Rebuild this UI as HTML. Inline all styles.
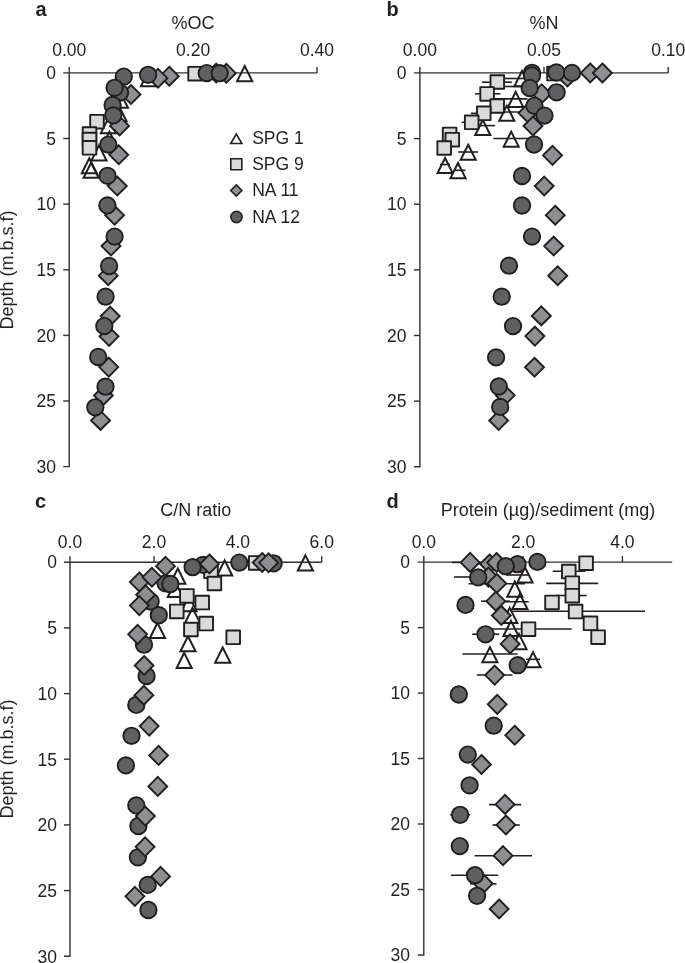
<!DOCTYPE html>
<html><head><meta charset="utf-8"><style>
html,body{margin:0;padding:0;background:#fff;overflow:hidden}
svg{display:block}
text{will-change:transform}
text{font-family:"Liberation Sans",sans-serif;fill:#231f20}
</style></head><body>
<svg width="685" height="963" viewBox="0 0 685 963">
<path d="M63.2 72.9H317.0" stroke="#313133" stroke-width="1.4" fill="none"/>
<path d="M69.2 66.9V466.6H63.2" stroke="#313133" stroke-width="1.4" fill="none"/>
<path d="M63.2 138.5H69.2" stroke="#313133" stroke-width="1.4"/>
<path d="M63.2 204.1H69.2" stroke="#313133" stroke-width="1.4"/>
<path d="M63.2 269.8H69.2" stroke="#313133" stroke-width="1.4"/>
<path d="M63.2 335.4H69.2" stroke="#313133" stroke-width="1.4"/>
<path d="M63.2 401.0H69.2" stroke="#313133" stroke-width="1.4"/>
<path d="M193.1 66.9V72.9" stroke="#313133" stroke-width="1.4"/>
<path d="M317.0 66.9V72.9" stroke="#313133" stroke-width="1.4"/>
<text x="56.0" y="79.1" font-size="17.5" text-anchor="end" font-weight="normal" >0</text>
<text x="56.0" y="144.7" font-size="17.5" text-anchor="end" font-weight="normal" >5</text>
<text x="56.0" y="210.3" font-size="17.5" text-anchor="end" font-weight="normal" >10</text>
<text x="56.0" y="275.9" font-size="17.5" text-anchor="end" font-weight="normal" >15</text>
<text x="56.0" y="341.6" font-size="17.5" text-anchor="end" font-weight="normal" >20</text>
<text x="56.0" y="407.2" font-size="17.5" text-anchor="end" font-weight="normal" >25</text>
<text x="56.0" y="472.8" font-size="17.5" text-anchor="end" font-weight="normal" >30</text>
<text x="193.1" y="28.7" font-size="18" text-anchor="middle" font-weight="normal" >%OC</text>
<text x="69.2" y="56.3" font-size="17.5" text-anchor="middle" font-weight="normal" >0.00</text>
<text x="193.1" y="56.3" font-size="17.5" text-anchor="middle" font-weight="normal" >0.20</text>
<text x="317.0" y="56.3" font-size="17.5" text-anchor="middle" font-weight="normal" >0.40</text>
<path d="M413.9 72.9H668.2" stroke="#313133" stroke-width="1.4" fill="none"/>
<path d="M419.9 66.9V466.8H413.9" stroke="#313133" stroke-width="1.4" fill="none"/>
<path d="M413.9 138.6H419.9" stroke="#313133" stroke-width="1.4"/>
<path d="M413.9 204.2H419.9" stroke="#313133" stroke-width="1.4"/>
<path d="M413.9 269.9H419.9" stroke="#313133" stroke-width="1.4"/>
<path d="M413.9 335.5H419.9" stroke="#313133" stroke-width="1.4"/>
<path d="M413.9 401.1H419.9" stroke="#313133" stroke-width="1.4"/>
<path d="M544.0 66.9V72.9" stroke="#313133" stroke-width="1.4"/>
<path d="M668.2 66.9V72.9" stroke="#313133" stroke-width="1.4"/>
<text x="406.5" y="79.1" font-size="17.5" text-anchor="end" font-weight="normal" >0</text>
<text x="406.5" y="144.8" font-size="17.5" text-anchor="end" font-weight="normal" >5</text>
<text x="406.5" y="210.4" font-size="17.5" text-anchor="end" font-weight="normal" >10</text>
<text x="406.5" y="276.1" font-size="17.5" text-anchor="end" font-weight="normal" >15</text>
<text x="406.5" y="341.7" font-size="17.5" text-anchor="end" font-weight="normal" >20</text>
<text x="406.5" y="407.3" font-size="17.5" text-anchor="end" font-weight="normal" >25</text>
<text x="406.5" y="473.0" font-size="17.5" text-anchor="end" font-weight="normal" >30</text>
<text x="544.0" y="28.7" font-size="18" text-anchor="middle" font-weight="normal" >%N</text>
<text x="419.9" y="56.3" font-size="17.5" text-anchor="middle" font-weight="normal" >0.00</text>
<text x="544.0" y="56.3" font-size="17.5" text-anchor="middle" font-weight="normal" >0.05</text>
<text x="668.2" y="56.3" font-size="17.5" text-anchor="middle" font-weight="normal" >0.10</text>
<path d="M64.0 562.2H321.7" stroke="#313133" stroke-width="1.4" fill="none"/>
<path d="M70.0 556.2V956.3H64.0" stroke="#313133" stroke-width="1.4" fill="none"/>
<path d="M64.0 627.9H70.0" stroke="#313133" stroke-width="1.4"/>
<path d="M64.0 693.6H70.0" stroke="#313133" stroke-width="1.4"/>
<path d="M64.0 759.2H70.0" stroke="#313133" stroke-width="1.4"/>
<path d="M64.0 824.9H70.0" stroke="#313133" stroke-width="1.4"/>
<path d="M64.0 890.6H70.0" stroke="#313133" stroke-width="1.4"/>
<path d="M154.0 556.2V562.2" stroke="#313133" stroke-width="1.4"/>
<path d="M237.9 556.2V562.2" stroke="#313133" stroke-width="1.4"/>
<path d="M321.7 556.2V562.2" stroke="#313133" stroke-width="1.4"/>
<text x="57.0" y="568.4" font-size="17.5" text-anchor="end" font-weight="normal" >0</text>
<text x="57.0" y="634.1" font-size="17.5" text-anchor="end" font-weight="normal" >5</text>
<text x="57.0" y="699.8" font-size="17.5" text-anchor="end" font-weight="normal" >10</text>
<text x="57.0" y="765.5" font-size="17.5" text-anchor="end" font-weight="normal" >15</text>
<text x="57.0" y="831.1" font-size="17.5" text-anchor="end" font-weight="normal" >20</text>
<text x="57.0" y="896.8" font-size="17.5" text-anchor="end" font-weight="normal" >25</text>
<text x="57.0" y="962.5" font-size="17.5" text-anchor="end" font-weight="normal" >30</text>
<text x="195.8" y="516.3" font-size="18" text-anchor="middle" font-weight="normal" >C/N ratio</text>
<text x="70.0" y="548.3" font-size="17.5" text-anchor="middle" font-weight="normal" >0.0</text>
<text x="154.0" y="548.3" font-size="17.5" text-anchor="middle" font-weight="normal" >2.0</text>
<text x="237.9" y="548.3" font-size="17.5" text-anchor="middle" font-weight="normal" >4.0</text>
<text x="321.7" y="548.3" font-size="17.5" text-anchor="middle" font-weight="normal" >6.0</text>
<path d="M417.8 562.1H672.2" stroke="#313133" stroke-width="1.4" fill="none"/>
<path d="M423.8 556.1V955.0H417.8" stroke="#313133" stroke-width="1.4" fill="none"/>
<path d="M417.8 627.6H423.8" stroke="#313133" stroke-width="1.4"/>
<path d="M417.8 693.1H423.8" stroke="#313133" stroke-width="1.4"/>
<path d="M417.8 758.5H423.8" stroke="#313133" stroke-width="1.4"/>
<path d="M417.8 824.0H423.8" stroke="#313133" stroke-width="1.4"/>
<path d="M417.8 889.5H423.8" stroke="#313133" stroke-width="1.4"/>
<path d="M523.1 556.1V562.1" stroke="#313133" stroke-width="1.4"/>
<path d="M622.4 556.1V562.1" stroke="#313133" stroke-width="1.4"/>
<text x="410.0" y="568.3" font-size="17.5" text-anchor="end" font-weight="normal" >0</text>
<text x="410.0" y="633.8" font-size="17.5" text-anchor="end" font-weight="normal" >5</text>
<text x="410.0" y="699.3" font-size="17.5" text-anchor="end" font-weight="normal" >10</text>
<text x="410.0" y="764.8" font-size="17.5" text-anchor="end" font-weight="normal" >15</text>
<text x="410.0" y="830.2" font-size="17.5" text-anchor="end" font-weight="normal" >20</text>
<text x="410.0" y="895.7" font-size="17.5" text-anchor="end" font-weight="normal" >25</text>
<text x="410.0" y="961.2" font-size="17.5" text-anchor="end" font-weight="normal" >30</text>
<text x="548.0" y="516.3" font-size="18" text-anchor="middle" font-weight="normal" >Protein (µg)/sediment (mg)</text>
<text x="423.8" y="548.3" font-size="17.5" text-anchor="middle" font-weight="normal" >0.0</text>
<text x="523.1" y="548.3" font-size="17.5" text-anchor="middle" font-weight="normal" >2.0</text>
<text x="622.4" y="548.3" font-size="17.5" text-anchor="middle" font-weight="normal" >4.0</text>
<text x="35.5" y="16" font-size="20" text-anchor="start" font-weight="bold" >a</text>
<text x="386.4" y="16" font-size="20" text-anchor="start" font-weight="bold" >b</text>
<text x="35" y="508" font-size="20" text-anchor="start" font-weight="bold" >c</text>
<text x="386.4" y="508.2" font-size="20" text-anchor="start" font-weight="bold" >d</text>
<text x="0" y="0" font-size="18" text-anchor="middle" transform="translate(13.1 270) rotate(-90)">Depth (m.b.s.f)</text>
<text x="0" y="0" font-size="18" text-anchor="middle" transform="translate(13.1 759) rotate(-90)">Depth (m.b.s.f)</text>
<path d="M236.30 134.10L241.90 143.50L230.70 143.50Z" fill="none" stroke="#221e1f" stroke-width="1.6" stroke-linejoin="miter"/>
<text x="252.2" y="144.1" font-size="17.5" text-anchor="start" font-weight="normal" >SPG 1</text>
<rect x="230.80" y="158.80" width="11" height="11" fill="#d9dadc" stroke="#221e1f" stroke-width="1.6" stroke-linejoin="round"/>
<text x="252.2" y="169.9" font-size="17.5" text-anchor="start" font-weight="normal" >SPG 9</text>
<path d="M236.3 184.9L241.9 190.5L236.3 196.1L230.7 190.5Z" fill="#8f8f93" stroke="#221e1f" stroke-width="1.6" stroke-linejoin="miter"/>
<text x="252.2" y="196.1" font-size="17.5" text-anchor="start" font-weight="normal" >NA 11</text>
<circle cx="236.5" cy="217.0" r="5.6" fill="#606063" stroke="#221e1f" stroke-width="1.6"/>
<text x="252.2" y="222.6" font-size="17.5" text-anchor="start" font-weight="normal" >NA 12</text>
<path d="M244.70 66.05L252.25 81.15L237.15 81.15Z" fill="none" stroke="#221e1f" stroke-width="2.0" stroke-linejoin="miter"/>
<path d="M148.50 71.25L156.05 86.35L140.95 86.35Z" fill="none" stroke="#221e1f" stroke-width="2.0" stroke-linejoin="miter"/>
<path d="M120.40 92.75L127.95 107.85L112.85 107.85Z" fill="none" stroke="#221e1f" stroke-width="2.0" stroke-linejoin="miter"/>
<path d="M119.00 106.25L126.55 121.35L111.45 121.35Z" fill="none" stroke="#221e1f" stroke-width="2.0" stroke-linejoin="miter"/>
<path d="M108.40 118.05L115.95 133.15L100.85 133.15Z" fill="none" stroke="#221e1f" stroke-width="2.0" stroke-linejoin="miter"/>
<path d="M109.50 131.65L117.05 146.75L101.95 146.75Z" fill="none" stroke="#221e1f" stroke-width="2.0" stroke-linejoin="miter"/>
<path d="M99.00 145.35L106.55 160.45L91.45 160.45Z" fill="none" stroke="#221e1f" stroke-width="2.0" stroke-linejoin="miter"/>
<path d="M89.30 158.25L96.85 173.35L81.75 173.35Z" fill="none" stroke="#221e1f" stroke-width="2.0" stroke-linejoin="miter"/>
<path d="M91.10 162.75L98.65 177.85L83.55 177.85Z" fill="none" stroke="#221e1f" stroke-width="2.0" stroke-linejoin="miter"/>
<rect x="188.30" y="66.90" width="13.6" height="13.6" fill="#d9dadc" stroke="#221e1f" stroke-width="1.9" stroke-linejoin="round"/>
<rect x="90.20" y="114.90" width="13.6" height="13.6" fill="#d9dadc" stroke="#221e1f" stroke-width="1.9" stroke-linejoin="round"/>
<rect x="82.70" y="127.20" width="13.6" height="13.6" fill="#d9dadc" stroke="#221e1f" stroke-width="1.9" stroke-linejoin="round"/>
<rect x="82.70" y="132.80" width="13.6" height="13.6" fill="#d9dadc" stroke="#221e1f" stroke-width="1.9" stroke-linejoin="round"/>
<rect x="82.70" y="141.00" width="13.6" height="13.6" fill="#d9dadc" stroke="#221e1f" stroke-width="1.9" stroke-linejoin="round"/>
<path d="M169.3 66.8L178.8 76.2L169.3 85.7L159.9 76.2Z" fill="#8f8f93" stroke="#221e1f" stroke-width="1.9" stroke-linejoin="miter"/>
<path d="M158.0 68.8L167.4 78.2L158.0 87.7L148.6 78.2Z" fill="#8f8f93" stroke="#221e1f" stroke-width="1.9" stroke-linejoin="miter"/>
<path d="M216.2 63.6L225.6 73.1L216.2 82.5L206.8 73.1Z" fill="#8f8f93" stroke="#221e1f" stroke-width="1.9" stroke-linejoin="miter"/>
<path d="M226.4 63.8L235.8 73.2L226.4 82.7L217.0 73.2Z" fill="#8f8f93" stroke="#221e1f" stroke-width="1.9" stroke-linejoin="miter"/>
<path d="M131.0 85.0L140.4 94.4L131.0 103.9L121.5 94.4Z" fill="#8f8f93" stroke="#221e1f" stroke-width="1.9" stroke-linejoin="miter"/>
<path d="M119.6 116.5L129.0 125.9L119.6 135.3L110.1 125.9Z" fill="#8f8f93" stroke="#221e1f" stroke-width="1.9" stroke-linejoin="miter"/>
<path d="M118.8 145.4L128.2 154.8L118.8 164.2L109.3 154.8Z" fill="#8f8f93" stroke="#221e1f" stroke-width="1.9" stroke-linejoin="miter"/>
<path d="M117.3 176.7L126.8 186.1L117.3 195.5L107.8 186.1Z" fill="#8f8f93" stroke="#221e1f" stroke-width="1.9" stroke-linejoin="miter"/>
<path d="M114.6 205.8L124.0 215.2L114.6 224.6L105.1 215.2Z" fill="#8f8f93" stroke="#221e1f" stroke-width="1.9" stroke-linejoin="miter"/>
<path d="M111.0 236.7L120.5 246.1L111.0 255.5L101.5 246.1Z" fill="#8f8f93" stroke="#221e1f" stroke-width="1.9" stroke-linejoin="miter"/>
<path d="M108.2 266.2L117.7 275.7L108.2 285.1L98.8 275.7Z" fill="#8f8f93" stroke="#221e1f" stroke-width="1.9" stroke-linejoin="miter"/>
<path d="M110.2 306.7L119.7 316.1L110.2 325.6L100.8 316.1Z" fill="#8f8f93" stroke="#221e1f" stroke-width="1.9" stroke-linejoin="miter"/>
<path d="M109.1 326.9L118.5 336.3L109.1 345.8L99.6 336.3Z" fill="#8f8f93" stroke="#221e1f" stroke-width="1.9" stroke-linejoin="miter"/>
<path d="M108.8 357.7L118.2 367.1L108.8 376.6L99.3 367.1Z" fill="#8f8f93" stroke="#221e1f" stroke-width="1.9" stroke-linejoin="miter"/>
<path d="M103.4 386.1L112.9 395.5L103.4 404.9L94.0 395.5Z" fill="#8f8f93" stroke="#221e1f" stroke-width="1.9" stroke-linejoin="miter"/>
<path d="M100.5 410.9L110.0 420.4L100.5 429.8L91.0 420.4Z" fill="#8f8f93" stroke="#221e1f" stroke-width="1.9" stroke-linejoin="miter"/>
<circle cx="123.8" cy="76.6" r="8.2" fill="#606063" stroke="#221e1f" stroke-width="1.9"/>
<circle cx="148.1" cy="74.8" r="8.2" fill="#606063" stroke="#221e1f" stroke-width="1.9"/>
<circle cx="206.7" cy="73.1" r="8.2" fill="#606063" stroke="#221e1f" stroke-width="1.9"/>
<circle cx="219.7" cy="73.2" r="8.2" fill="#606063" stroke="#221e1f" stroke-width="1.9"/>
<circle cx="120.0" cy="92.6" r="8.2" fill="#606063" stroke="#221e1f" stroke-width="1.9"/>
<circle cx="114.6" cy="87.8" r="8.2" fill="#606063" stroke="#221e1f" stroke-width="1.9"/>
<circle cx="112.6" cy="105.0" r="8.2" fill="#606063" stroke="#221e1f" stroke-width="1.9"/>
<circle cx="113.3" cy="115.4" r="8.2" fill="#606063" stroke="#221e1f" stroke-width="1.9"/>
<circle cx="108.3" cy="144.6" r="8.2" fill="#606063" stroke="#221e1f" stroke-width="1.9"/>
<circle cx="107.5" cy="175.8" r="8.2" fill="#606063" stroke="#221e1f" stroke-width="1.9"/>
<circle cx="107.4" cy="205.4" r="8.2" fill="#606063" stroke="#221e1f" stroke-width="1.9"/>
<circle cx="114.6" cy="236.6" r="8.2" fill="#606063" stroke="#221e1f" stroke-width="1.9"/>
<circle cx="109.1" cy="266.0" r="8.2" fill="#606063" stroke="#221e1f" stroke-width="1.9"/>
<circle cx="105.6" cy="296.7" r="8.2" fill="#606063" stroke="#221e1f" stroke-width="1.9"/>
<circle cx="104.3" cy="326.1" r="8.2" fill="#606063" stroke="#221e1f" stroke-width="1.9"/>
<circle cx="98.2" cy="357.0" r="8.2" fill="#606063" stroke="#221e1f" stroke-width="1.9"/>
<circle cx="105.5" cy="386.7" r="8.2" fill="#606063" stroke="#221e1f" stroke-width="1.9"/>
<circle cx="95.3" cy="407.3" r="8.2" fill="#606063" stroke="#221e1f" stroke-width="1.9"/>
<path d="M504.0 78.5H524.0" stroke="#221e1f" stroke-width="1.6"/>
<path d="M504.0 86.5H522.0" stroke="#221e1f" stroke-width="1.6"/>
<path d="M494.3 98.9H527.5" stroke="#221e1f" stroke-width="1.6"/>
<path d="M490.0 112.0H524.0" stroke="#221e1f" stroke-width="1.6"/>
<path d="M479.4 125.6H495.1" stroke="#221e1f" stroke-width="1.6"/>
<path d="M493.4 138.5H530.0" stroke="#221e1f" stroke-width="1.6"/>
<path d="M458.3 152.0H478.0" stroke="#221e1f" stroke-width="1.6"/>
<path d="M440.0 164.5H450.0" stroke="#221e1f" stroke-width="1.6"/>
<path d="M454.0 170.3H465.5" stroke="#221e1f" stroke-width="1.6"/>
<path d="M522.00 71.05L529.55 86.15L514.45 86.15Z" fill="none" stroke="#221e1f" stroke-width="2.0" stroke-linejoin="miter"/>
<path d="M515.70 91.85L523.25 106.95L508.15 106.95Z" fill="none" stroke="#221e1f" stroke-width="2.0" stroke-linejoin="miter"/>
<path d="M506.80 105.65L514.35 120.75L499.25 120.75Z" fill="none" stroke="#221e1f" stroke-width="2.0" stroke-linejoin="miter"/>
<path d="M482.80 119.85L490.35 134.95L475.25 134.95Z" fill="none" stroke="#221e1f" stroke-width="2.0" stroke-linejoin="miter"/>
<path d="M511.20 131.65L518.75 146.75L503.65 146.75Z" fill="none" stroke="#221e1f" stroke-width="2.0" stroke-linejoin="miter"/>
<path d="M468.20 144.75L475.75 159.85L460.65 159.85Z" fill="none" stroke="#221e1f" stroke-width="2.0" stroke-linejoin="miter"/>
<path d="M445.10 157.95L452.65 173.05L437.55 173.05Z" fill="none" stroke="#221e1f" stroke-width="2.0" stroke-linejoin="miter"/>
<path d="M458.00 163.05L465.55 178.15L450.45 178.15Z" fill="none" stroke="#221e1f" stroke-width="2.0" stroke-linejoin="miter"/>
<path d="M482.0 82.2H511.8" stroke="#221e1f" stroke-width="1.6"/>
<path d="M475.0 93.8H500.4" stroke="#221e1f" stroke-width="1.6"/>
<path d="M461.6 122.3H472.0" stroke="#221e1f" stroke-width="1.6"/>
<path d="M471.0 113.3H484.0" stroke="#221e1f" stroke-width="1.6"/>
<rect x="547.20" y="66.80" width="13.6" height="13.6" fill="#d9dadc" stroke="#221e1f" stroke-width="1.9" stroke-linejoin="round"/>
<rect x="490.50" y="75.20" width="13.6" height="13.6" fill="#d9dadc" stroke="#221e1f" stroke-width="1.9" stroke-linejoin="round"/>
<rect x="480.30" y="87.10" width="13.6" height="13.6" fill="#d9dadc" stroke="#221e1f" stroke-width="1.9" stroke-linejoin="round"/>
<rect x="490.40" y="99.20" width="13.6" height="13.6" fill="#d9dadc" stroke="#221e1f" stroke-width="1.9" stroke-linejoin="round"/>
<rect x="477.00" y="106.50" width="13.6" height="13.6" fill="#d9dadc" stroke="#221e1f" stroke-width="1.9" stroke-linejoin="round"/>
<rect x="464.90" y="115.50" width="13.6" height="13.6" fill="#d9dadc" stroke="#221e1f" stroke-width="1.9" stroke-linejoin="round"/>
<rect x="442.80" y="127.60" width="13.6" height="13.6" fill="#d9dadc" stroke="#221e1f" stroke-width="1.9" stroke-linejoin="round"/>
<rect x="445.50" y="132.90" width="13.6" height="13.6" fill="#d9dadc" stroke="#221e1f" stroke-width="1.9" stroke-linejoin="round"/>
<rect x="437.40" y="141.20" width="13.6" height="13.6" fill="#d9dadc" stroke="#221e1f" stroke-width="1.9" stroke-linejoin="round"/>
<path d="M590.2 63.5L599.7 72.9L590.2 82.4L580.8 72.9Z" fill="#8f8f93" stroke="#221e1f" stroke-width="1.9" stroke-linejoin="miter"/>
<path d="M602.4 63.5L611.9 73.0L602.4 82.5L592.9 73.0Z" fill="#8f8f93" stroke="#221e1f" stroke-width="1.9" stroke-linejoin="miter"/>
<path d="M567.4 67.5L576.9 77.0L567.4 86.5L557.9 77.0Z" fill="#8f8f93" stroke="#221e1f" stroke-width="1.9" stroke-linejoin="miter"/>
<path d="M541.7 84.3L551.2 93.8L541.7 103.2L532.2 93.8Z" fill="#8f8f93" stroke="#221e1f" stroke-width="1.9" stroke-linejoin="miter"/>
<path d="M528.0 103.5L537.5 113.0L528.0 122.5L518.5 113.0Z" fill="#8f8f93" stroke="#221e1f" stroke-width="1.9" stroke-linejoin="miter"/>
<path d="M533.0 116.5L542.5 126.0L533.0 135.4L523.5 126.0Z" fill="#8f8f93" stroke="#221e1f" stroke-width="1.9" stroke-linejoin="miter"/>
<path d="M552.5 145.9L562.0 155.3L552.5 164.8L543.0 155.3Z" fill="#8f8f93" stroke="#221e1f" stroke-width="1.9" stroke-linejoin="miter"/>
<path d="M544.2 176.6L553.7 186.0L544.2 195.4L534.8 186.0Z" fill="#8f8f93" stroke="#221e1f" stroke-width="1.9" stroke-linejoin="miter"/>
<path d="M555.2 205.8L564.7 215.2L555.2 224.6L545.8 215.2Z" fill="#8f8f93" stroke="#221e1f" stroke-width="1.9" stroke-linejoin="miter"/>
<path d="M553.7 236.7L563.2 246.1L553.7 255.5L544.2 246.1Z" fill="#8f8f93" stroke="#221e1f" stroke-width="1.9" stroke-linejoin="miter"/>
<path d="M557.7 266.4L567.2 275.8L557.7 285.2L548.2 275.8Z" fill="#8f8f93" stroke="#221e1f" stroke-width="1.9" stroke-linejoin="miter"/>
<path d="M541.3 306.4L550.8 315.9L541.3 325.3L531.8 315.9Z" fill="#8f8f93" stroke="#221e1f" stroke-width="1.9" stroke-linejoin="miter"/>
<path d="M534.9 326.7L544.4 336.1L534.9 345.6L525.4 336.1Z" fill="#8f8f93" stroke="#221e1f" stroke-width="1.9" stroke-linejoin="miter"/>
<path d="M534.5 357.8L544.0 367.2L534.5 376.6L525.0 367.2Z" fill="#8f8f93" stroke="#221e1f" stroke-width="1.9" stroke-linejoin="miter"/>
<path d="M505.2 385.9L514.6 395.3L505.2 404.8L495.8 395.3Z" fill="#8f8f93" stroke="#221e1f" stroke-width="1.9" stroke-linejoin="miter"/>
<path d="M498.6 411.1L508.1 420.5L498.6 429.9L489.2 420.5Z" fill="#8f8f93" stroke="#221e1f" stroke-width="1.9" stroke-linejoin="miter"/>
<circle cx="532.0" cy="72.8" r="8.2" fill="#606063" stroke="#221e1f" stroke-width="1.9"/>
<circle cx="532.0" cy="75.5" r="8.2" fill="#606063" stroke="#221e1f" stroke-width="1.9"/>
<circle cx="556.3" cy="72.5" r="8.2" fill="#606063" stroke="#221e1f" stroke-width="1.9"/>
<circle cx="572.0" cy="72.9" r="8.2" fill="#606063" stroke="#221e1f" stroke-width="1.9"/>
<circle cx="529.7" cy="88.0" r="8.2" fill="#606063" stroke="#221e1f" stroke-width="1.9"/>
<circle cx="556.6" cy="92.3" r="8.2" fill="#606063" stroke="#221e1f" stroke-width="1.9"/>
<circle cx="534.4" cy="105.8" r="8.2" fill="#606063" stroke="#221e1f" stroke-width="1.9"/>
<circle cx="544.5" cy="115.6" r="8.2" fill="#606063" stroke="#221e1f" stroke-width="1.9"/>
<circle cx="534.0" cy="144.5" r="8.2" fill="#606063" stroke="#221e1f" stroke-width="1.9"/>
<circle cx="522.0" cy="176.0" r="8.2" fill="#606063" stroke="#221e1f" stroke-width="1.9"/>
<circle cx="522.0" cy="205.5" r="8.2" fill="#606063" stroke="#221e1f" stroke-width="1.9"/>
<circle cx="532.0" cy="236.6" r="8.2" fill="#606063" stroke="#221e1f" stroke-width="1.9"/>
<circle cx="509.0" cy="265.7" r="8.2" fill="#606063" stroke="#221e1f" stroke-width="1.9"/>
<circle cx="501.7" cy="296.7" r="8.2" fill="#606063" stroke="#221e1f" stroke-width="1.9"/>
<circle cx="513.0" cy="326.1" r="8.2" fill="#606063" stroke="#221e1f" stroke-width="1.9"/>
<circle cx="496.1" cy="357.4" r="8.2" fill="#606063" stroke="#221e1f" stroke-width="1.9"/>
<circle cx="498.8" cy="386.5" r="8.2" fill="#606063" stroke="#221e1f" stroke-width="1.9"/>
<circle cx="500.2" cy="406.9" r="8.2" fill="#606063" stroke="#221e1f" stroke-width="1.9"/>
<path d="M305.40 555.35L312.95 570.45L297.85 570.45Z" fill="none" stroke="#221e1f" stroke-width="2.0" stroke-linejoin="miter"/>
<path d="M224.70 560.35L232.25 575.45L217.15 575.45Z" fill="none" stroke="#221e1f" stroke-width="2.0" stroke-linejoin="miter"/>
<path d="M177.80 568.55L185.35 583.65L170.25 583.65Z" fill="none" stroke="#221e1f" stroke-width="2.0" stroke-linejoin="miter"/>
<path d="M175.30 581.95L182.85 597.05L167.75 597.05Z" fill="none" stroke="#221e1f" stroke-width="2.0" stroke-linejoin="miter"/>
<path d="M189.00 596.05L196.55 611.15L181.45 611.15Z" fill="none" stroke="#221e1f" stroke-width="2.0" stroke-linejoin="miter"/>
<path d="M192.50 607.85L200.05 622.95L184.95 622.95Z" fill="none" stroke="#221e1f" stroke-width="2.0" stroke-linejoin="miter"/>
<path d="M157.50 622.85L165.05 637.95L149.95 637.95Z" fill="none" stroke="#221e1f" stroke-width="2.0" stroke-linejoin="miter"/>
<path d="M188.00 636.25L195.55 651.35L180.45 651.35Z" fill="none" stroke="#221e1f" stroke-width="2.0" stroke-linejoin="miter"/>
<path d="M222.70 647.55L230.25 662.65L215.15 662.65Z" fill="none" stroke="#221e1f" stroke-width="2.0" stroke-linejoin="miter"/>
<path d="M184.20 652.85L191.75 667.95L176.65 667.95Z" fill="none" stroke="#221e1f" stroke-width="2.0" stroke-linejoin="miter"/>
<rect x="248.90" y="556.10" width="13.6" height="13.6" fill="#d9dadc" stroke="#221e1f" stroke-width="1.9" stroke-linejoin="round"/>
<rect x="204.20" y="564.50" width="13.6" height="13.6" fill="#d9dadc" stroke="#221e1f" stroke-width="1.9" stroke-linejoin="round"/>
<rect x="207.60" y="576.70" width="13.6" height="13.6" fill="#d9dadc" stroke="#221e1f" stroke-width="1.9" stroke-linejoin="round"/>
<rect x="180.10" y="589.10" width="13.6" height="13.6" fill="#d9dadc" stroke="#221e1f" stroke-width="1.9" stroke-linejoin="round"/>
<rect x="195.40" y="595.80" width="13.6" height="13.6" fill="#d9dadc" stroke="#221e1f" stroke-width="1.9" stroke-linejoin="round"/>
<rect x="170.00" y="604.60" width="13.6" height="13.6" fill="#d9dadc" stroke="#221e1f" stroke-width="1.9" stroke-linejoin="round"/>
<rect x="199.40" y="616.80" width="13.6" height="13.6" fill="#d9dadc" stroke="#221e1f" stroke-width="1.9" stroke-linejoin="round"/>
<rect x="184.10" y="622.70" width="13.6" height="13.6" fill="#d9dadc" stroke="#221e1f" stroke-width="1.9" stroke-linejoin="round"/>
<rect x="226.40" y="630.50" width="13.6" height="13.6" fill="#d9dadc" stroke="#221e1f" stroke-width="1.9" stroke-linejoin="round"/>
<circle cx="239.3" cy="562.6" r="8.2" fill="#606063" stroke="#221e1f" stroke-width="1.9"/>
<circle cx="273.6" cy="563.3" r="8.2" fill="#606063" stroke="#221e1f" stroke-width="1.9"/>
<circle cx="203.0" cy="564.9" r="8.2" fill="#606063" stroke="#221e1f" stroke-width="1.9"/>
<circle cx="192.6" cy="567.2" r="8.2" fill="#606063" stroke="#221e1f" stroke-width="1.9"/>
<circle cx="165.6" cy="583.4" r="8.2" fill="#606063" stroke="#221e1f" stroke-width="1.9"/>
<circle cx="170.4" cy="584.0" r="8.2" fill="#606063" stroke="#221e1f" stroke-width="1.9"/>
<circle cx="150.6" cy="601.5" r="8.2" fill="#606063" stroke="#221e1f" stroke-width="1.9"/>
<circle cx="158.8" cy="615.2" r="8.2" fill="#606063" stroke="#221e1f" stroke-width="1.9"/>
<circle cx="144.0" cy="644.7" r="8.2" fill="#606063" stroke="#221e1f" stroke-width="1.9"/>
<circle cx="146.6" cy="676.0" r="8.2" fill="#606063" stroke="#221e1f" stroke-width="1.9"/>
<circle cx="136.3" cy="704.9" r="8.2" fill="#606063" stroke="#221e1f" stroke-width="1.9"/>
<circle cx="131.5" cy="735.8" r="8.2" fill="#606063" stroke="#221e1f" stroke-width="1.9"/>
<circle cx="125.9" cy="765.4" r="8.2" fill="#606063" stroke="#221e1f" stroke-width="1.9"/>
<circle cx="136.3" cy="805.4" r="8.2" fill="#606063" stroke="#221e1f" stroke-width="1.9"/>
<circle cx="138.4" cy="826.0" r="8.2" fill="#606063" stroke="#221e1f" stroke-width="1.9"/>
<circle cx="137.9" cy="857.3" r="8.2" fill="#606063" stroke="#221e1f" stroke-width="1.9"/>
<circle cx="147.7" cy="884.9" r="8.2" fill="#606063" stroke="#221e1f" stroke-width="1.9"/>
<circle cx="148.4" cy="910.0" r="8.2" fill="#606063" stroke="#221e1f" stroke-width="1.9"/>
<path d="M165.5 556.8L174.9 566.2L165.5 575.7L156.1 566.2Z" fill="#8f8f93" stroke="#221e1f" stroke-width="1.9" stroke-linejoin="miter"/>
<path d="M209.4 554.5L218.8 564.0L209.4 573.5L200.0 564.0Z" fill="#8f8f93" stroke="#221e1f" stroke-width="1.9" stroke-linejoin="miter"/>
<path d="M262.2 553.0L271.6 562.5L262.2 572.0L252.8 562.5Z" fill="#8f8f93" stroke="#221e1f" stroke-width="1.9" stroke-linejoin="miter"/>
<path d="M268.6 553.3L278.1 562.8L268.6 572.2L259.2 562.8Z" fill="#8f8f93" stroke="#221e1f" stroke-width="1.9" stroke-linejoin="miter"/>
<path d="M139.3 572.5L148.8 582.0L139.3 591.5L129.9 582.0Z" fill="#8f8f93" stroke="#221e1f" stroke-width="1.9" stroke-linejoin="miter"/>
<path d="M151.9 567.8L161.3 577.2L151.9 586.7L142.5 577.2Z" fill="#8f8f93" stroke="#221e1f" stroke-width="1.9" stroke-linejoin="miter"/>
<path d="M145.6 585.3L155.0 594.8L145.6 604.2L136.2 594.8Z" fill="#8f8f93" stroke="#221e1f" stroke-width="1.9" stroke-linejoin="miter"/>
<path d="M139.4 596.1L148.8 605.6L139.4 615.1L130.0 605.6Z" fill="#8f8f93" stroke="#221e1f" stroke-width="1.9" stroke-linejoin="miter"/>
<path d="M137.6 624.8L147.0 634.3L137.6 643.8L128.2 634.3Z" fill="#8f8f93" stroke="#221e1f" stroke-width="1.9" stroke-linejoin="miter"/>
<path d="M144.1 656.0L153.5 665.5L144.1 675.0L134.7 665.5Z" fill="#8f8f93" stroke="#221e1f" stroke-width="1.9" stroke-linejoin="miter"/>
<path d="M143.9 685.8L153.3 695.2L143.9 704.7L134.5 695.2Z" fill="#8f8f93" stroke="#221e1f" stroke-width="1.9" stroke-linejoin="miter"/>
<path d="M149.2 716.6L158.6 726.1L149.2 735.6L139.8 726.1Z" fill="#8f8f93" stroke="#221e1f" stroke-width="1.9" stroke-linejoin="miter"/>
<path d="M158.6 745.9L168.0 755.4L158.6 764.9L149.2 755.4Z" fill="#8f8f93" stroke="#221e1f" stroke-width="1.9" stroke-linejoin="miter"/>
<path d="M157.8 776.9L167.2 786.4L157.8 795.9L148.4 786.4Z" fill="#8f8f93" stroke="#221e1f" stroke-width="1.9" stroke-linejoin="miter"/>
<path d="M145.3 806.6L154.8 816.1L145.3 825.6L135.9 816.1Z" fill="#8f8f93" stroke="#221e1f" stroke-width="1.9" stroke-linejoin="miter"/>
<path d="M145.1 837.3L154.5 846.8L145.1 856.2L135.7 846.8Z" fill="#8f8f93" stroke="#221e1f" stroke-width="1.9" stroke-linejoin="miter"/>
<path d="M160.6 866.9L170.0 876.4L160.6 885.9L151.2 876.4Z" fill="#8f8f93" stroke="#221e1f" stroke-width="1.9" stroke-linejoin="miter"/>
<path d="M134.9 886.8L144.3 896.3L134.9 905.8L125.5 896.3Z" fill="#8f8f93" stroke="#221e1f" stroke-width="1.9" stroke-linejoin="miter"/>
<path d="M506.0 575.0H528.0" stroke="#221e1f" stroke-width="1.6"/>
<path d="M490.0 601.7H528.7" stroke="#221e1f" stroke-width="1.6"/>
<path d="M462.4 654.0H517.6" stroke="#221e1f" stroke-width="1.6"/>
<path d="M526.0 659.3H540.0" stroke="#221e1f" stroke-width="1.6"/>
<path d="M525.00 567.35L532.55 582.45L517.45 582.45Z" fill="none" stroke="#221e1f" stroke-width="2.0" stroke-linejoin="miter"/>
<path d="M514.80 581.55L522.35 596.65L507.25 596.65Z" fill="none" stroke="#221e1f" stroke-width="2.0" stroke-linejoin="miter"/>
<path d="M519.90 593.95L527.45 609.05L512.35 609.05Z" fill="none" stroke="#221e1f" stroke-width="2.0" stroke-linejoin="miter"/>
<path d="M509.70 607.85L517.25 622.95L502.15 622.95Z" fill="none" stroke="#221e1f" stroke-width="2.0" stroke-linejoin="miter"/>
<path d="M511.00 620.85L518.55 635.95L503.45 635.95Z" fill="none" stroke="#221e1f" stroke-width="2.0" stroke-linejoin="miter"/>
<path d="M519.00 634.05L526.55 649.15L511.45 649.15Z" fill="none" stroke="#221e1f" stroke-width="2.0" stroke-linejoin="miter"/>
<path d="M489.90 647.15L497.45 662.25L482.35 662.25Z" fill="none" stroke="#221e1f" stroke-width="2.0" stroke-linejoin="miter"/>
<path d="M533.00 652.15L540.55 667.25L525.45 667.25Z" fill="none" stroke="#221e1f" stroke-width="2.0" stroke-linejoin="miter"/>
<path d="M552.8 571.3H585.5" stroke="#221e1f" stroke-width="1.6"/>
<path d="M546.2 583.4H598.2" stroke="#221e1f" stroke-width="1.6"/>
<path d="M556.0 595.5H586.6" stroke="#221e1f" stroke-width="1.6"/>
<path d="M511.9 611.3H645.0" stroke="#221e1f" stroke-width="1.6"/>
<path d="M490.0 629.0H571.7" stroke="#221e1f" stroke-width="1.6"/>
<rect x="579.30" y="556.40" width="13.6" height="13.6" fill="#d9dadc" stroke="#221e1f" stroke-width="1.9" stroke-linejoin="round"/>
<rect x="562.00" y="564.80" width="13.6" height="13.6" fill="#d9dadc" stroke="#221e1f" stroke-width="1.9" stroke-linejoin="round"/>
<rect x="565.50" y="576.40" width="13.6" height="13.6" fill="#d9dadc" stroke="#221e1f" stroke-width="1.9" stroke-linejoin="round"/>
<rect x="565.50" y="588.90" width="13.6" height="13.6" fill="#d9dadc" stroke="#221e1f" stroke-width="1.9" stroke-linejoin="round"/>
<rect x="545.20" y="595.60" width="13.6" height="13.6" fill="#d9dadc" stroke="#221e1f" stroke-width="1.9" stroke-linejoin="round"/>
<rect x="568.80" y="604.80" width="13.6" height="13.6" fill="#d9dadc" stroke="#221e1f" stroke-width="1.9" stroke-linejoin="round"/>
<rect x="583.70" y="616.50" width="13.6" height="13.6" fill="#d9dadc" stroke="#221e1f" stroke-width="1.9" stroke-linejoin="round"/>
<rect x="521.70" y="622.40" width="13.6" height="13.6" fill="#d9dadc" stroke="#221e1f" stroke-width="1.9" stroke-linejoin="round"/>
<rect x="591.30" y="630.40" width="13.6" height="13.6" fill="#d9dadc" stroke="#221e1f" stroke-width="1.9" stroke-linejoin="round"/>
<path d="M452.0 562.4H470.0" stroke="#221e1f" stroke-width="1.6"/>
<path d="M468.5 583.7H525.0" stroke="#221e1f" stroke-width="1.6"/>
<path d="M481.1 601.2H510.0" stroke="#221e1f" stroke-width="1.6"/>
<path d="M476.7 675.0H512.5" stroke="#221e1f" stroke-width="1.6"/>
<path d="M489.1 804.6H521.2" stroke="#221e1f" stroke-width="1.6"/>
<path d="M492.5 825.0H519.8" stroke="#221e1f" stroke-width="1.6"/>
<path d="M474.5 855.7H532.0" stroke="#221e1f" stroke-width="1.6"/>
<path d="M470.0 883.8H496.5" stroke="#221e1f" stroke-width="1.6"/>
<path d="M470.1 552.9L479.6 562.4L470.1 571.9L460.7 562.4Z" fill="#8f8f93" stroke="#221e1f" stroke-width="1.9" stroke-linejoin="miter"/>
<path d="M489.5 554.5L498.9 564.0L489.5 573.5L480.1 564.0Z" fill="#8f8f93" stroke="#221e1f" stroke-width="1.9" stroke-linejoin="miter"/>
<path d="M496.5 553.0L505.9 562.5L496.5 572.0L487.1 562.5Z" fill="#8f8f93" stroke="#221e1f" stroke-width="1.9" stroke-linejoin="miter"/>
<path d="M488.4 567.6L497.8 577.1L488.4 586.6L478.9 577.1Z" fill="#8f8f93" stroke="#221e1f" stroke-width="1.9" stroke-linejoin="miter"/>
<path d="M496.8 574.0L506.2 583.5L496.8 593.0L487.4 583.5Z" fill="#8f8f93" stroke="#221e1f" stroke-width="1.9" stroke-linejoin="miter"/>
<path d="M495.8 591.8L505.2 601.2L495.8 610.7L486.4 601.2Z" fill="#8f8f93" stroke="#221e1f" stroke-width="1.9" stroke-linejoin="miter"/>
<path d="M501.3 606.0L510.8 615.5L501.3 625.0L491.9 615.5Z" fill="#8f8f93" stroke="#221e1f" stroke-width="1.9" stroke-linejoin="miter"/>
<path d="M510.1 634.4L519.6 643.9L510.1 653.4L500.7 643.9Z" fill="#8f8f93" stroke="#221e1f" stroke-width="1.9" stroke-linejoin="miter"/>
<path d="M494.7 665.6L504.1 675.1L494.7 684.6L485.2 675.1Z" fill="#8f8f93" stroke="#221e1f" stroke-width="1.9" stroke-linejoin="miter"/>
<path d="M497.2 694.8L506.6 704.3L497.2 713.8L487.8 704.3Z" fill="#8f8f93" stroke="#221e1f" stroke-width="1.9" stroke-linejoin="miter"/>
<path d="M514.7 725.8L524.2 735.2L514.7 744.7L505.3 735.2Z" fill="#8f8f93" stroke="#221e1f" stroke-width="1.9" stroke-linejoin="miter"/>
<path d="M481.5 755.0L490.9 764.5L481.5 774.0L472.1 764.5Z" fill="#8f8f93" stroke="#221e1f" stroke-width="1.9" stroke-linejoin="miter"/>
<path d="M505.0 794.9L514.5 804.4L505.0 813.9L495.6 804.4Z" fill="#8f8f93" stroke="#221e1f" stroke-width="1.9" stroke-linejoin="miter"/>
<path d="M505.9 815.5L515.4 825.0L505.9 834.5L496.4 825.0Z" fill="#8f8f93" stroke="#221e1f" stroke-width="1.9" stroke-linejoin="miter"/>
<path d="M503.0 846.2L512.5 855.7L503.0 865.2L493.6 855.7Z" fill="#8f8f93" stroke="#221e1f" stroke-width="1.9" stroke-linejoin="miter"/>
<path d="M483.2 874.1L492.6 883.6L483.2 893.1L473.8 883.6Z" fill="#8f8f93" stroke="#221e1f" stroke-width="1.9" stroke-linejoin="miter"/>
<path d="M499.1 899.5L508.6 909.0L499.1 918.5L489.7 909.0Z" fill="#8f8f93" stroke="#221e1f" stroke-width="1.9" stroke-linejoin="miter"/>
<path d="M454.1 577.0H478.0" stroke="#221e1f" stroke-width="1.6"/>
<path d="M472.3 634.2H499.3" stroke="#221e1f" stroke-width="1.6"/>
<path d="M450.2 814.8H470.2" stroke="#221e1f" stroke-width="1.6"/>
<path d="M450.9 875.3H498.3" stroke="#221e1f" stroke-width="1.6"/>
<circle cx="537.4" cy="561.9" r="8.2" fill="#606063" stroke="#221e1f" stroke-width="1.9"/>
<circle cx="517.5" cy="564.2" r="8.2" fill="#606063" stroke="#221e1f" stroke-width="1.9"/>
<circle cx="505.8" cy="566.2" r="8.2" fill="#606063" stroke="#221e1f" stroke-width="1.9"/>
<circle cx="478.2" cy="577.4" r="8.2" fill="#606063" stroke="#221e1f" stroke-width="1.9"/>
<circle cx="465.5" cy="604.9" r="8.2" fill="#606063" stroke="#221e1f" stroke-width="1.9"/>
<circle cx="485.5" cy="634.3" r="8.2" fill="#606063" stroke="#221e1f" stroke-width="1.9"/>
<circle cx="517.7" cy="665.2" r="8.2" fill="#606063" stroke="#221e1f" stroke-width="1.9"/>
<circle cx="458.8" cy="694.5" r="8.2" fill="#606063" stroke="#221e1f" stroke-width="1.9"/>
<circle cx="493.7" cy="725.7" r="8.2" fill="#606063" stroke="#221e1f" stroke-width="1.9"/>
<circle cx="467.8" cy="754.6" r="8.2" fill="#606063" stroke="#221e1f" stroke-width="1.9"/>
<circle cx="469.6" cy="785.3" r="8.2" fill="#606063" stroke="#221e1f" stroke-width="1.9"/>
<circle cx="460.1" cy="814.8" r="8.2" fill="#606063" stroke="#221e1f" stroke-width="1.9"/>
<circle cx="459.8" cy="846.1" r="8.2" fill="#606063" stroke="#221e1f" stroke-width="1.9"/>
<circle cx="475.0" cy="875.2" r="8.2" fill="#606063" stroke="#221e1f" stroke-width="1.9"/>
<circle cx="477.1" cy="895.8" r="8.2" fill="#606063" stroke="#221e1f" stroke-width="1.9"/>
</svg>
</body></html>
